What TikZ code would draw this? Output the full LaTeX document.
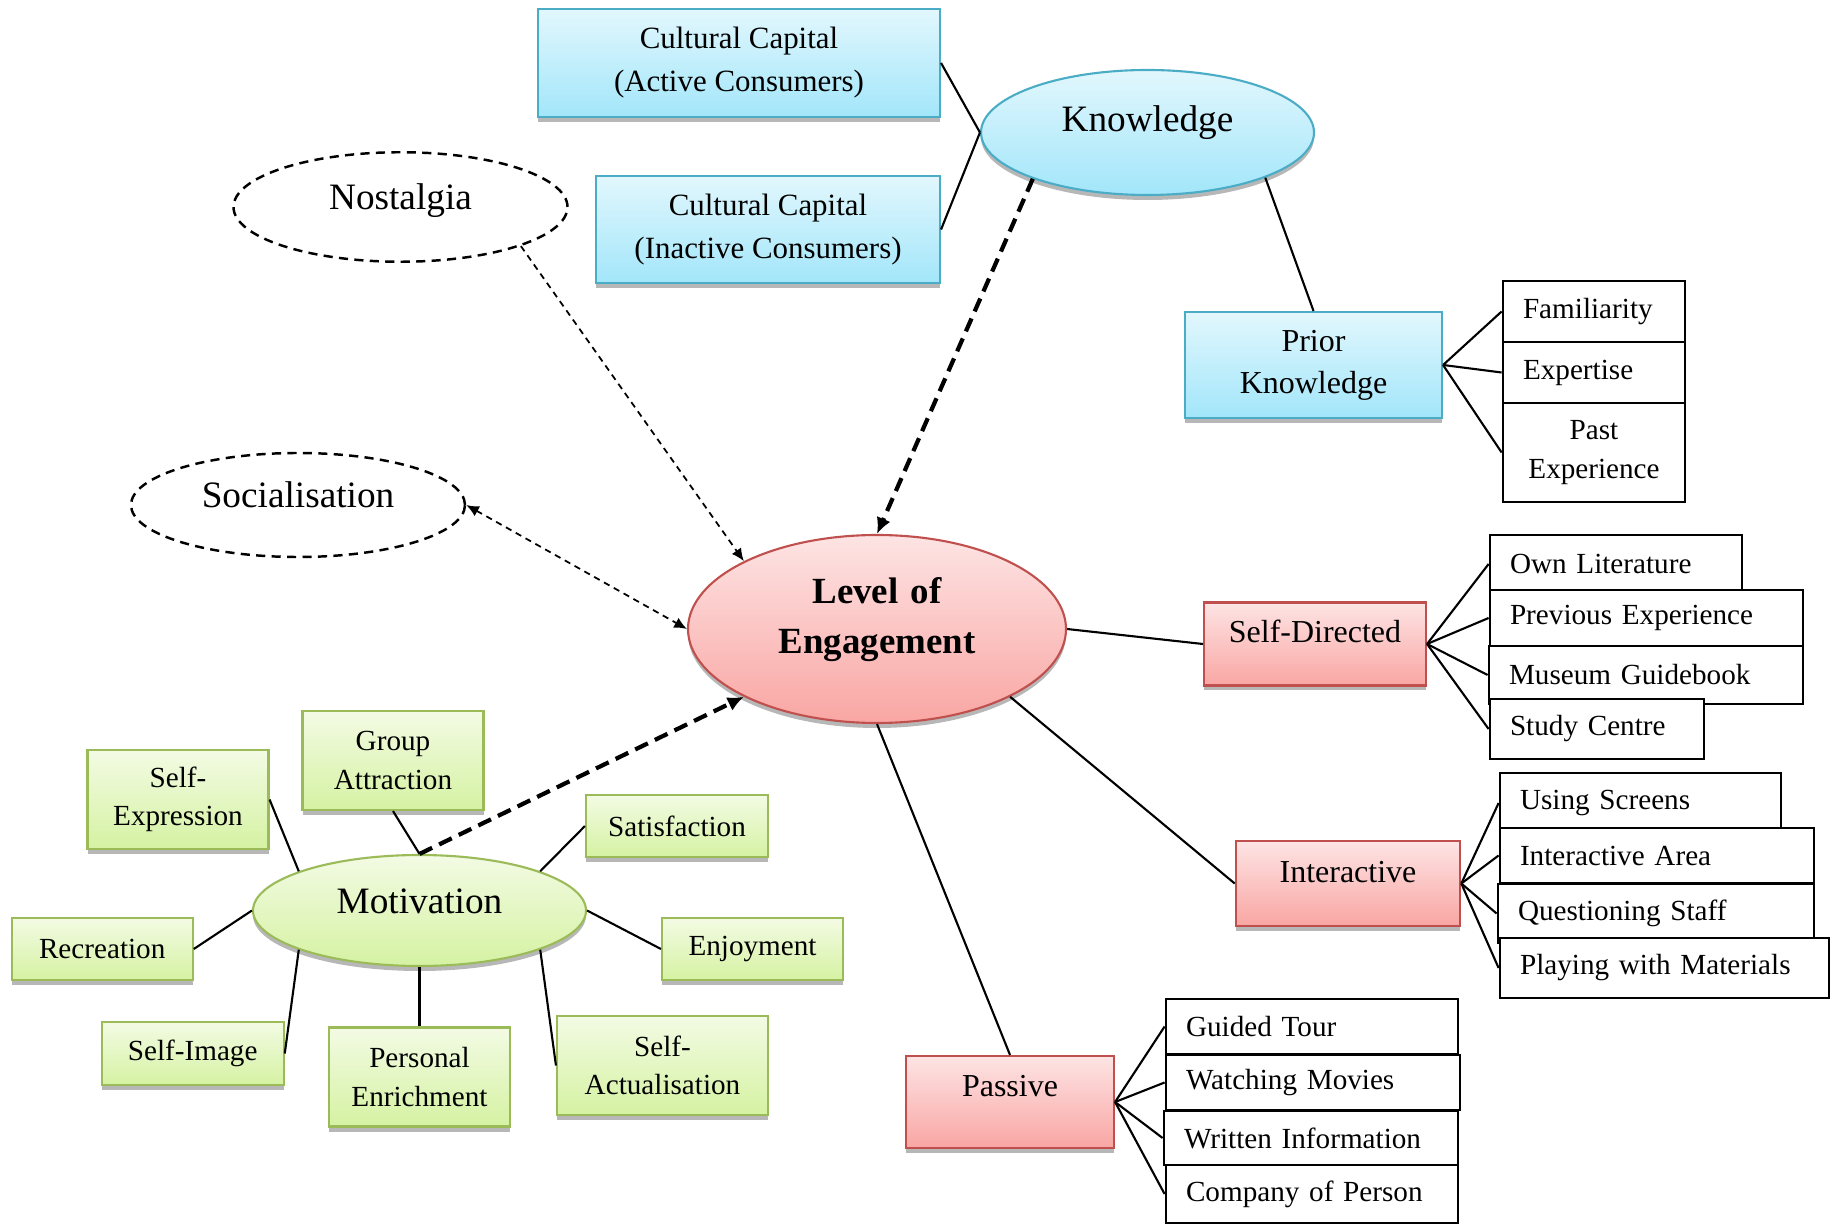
\documentclass[tikz,border=0pt]{standalone}
\usepackage{fontspec}
\setmainfont{Liberation Serif}
\usetikzlibrary{shapes.geometric,shadows,arrows.meta}

\definecolor{bluetop}{RGB}{226,247,253}
\definecolor{bluebot}{RGB}{162,230,250}
\definecolor{blueline}{RGB}{75,172,198}
\definecolor{redtop}{RGB}{253,228,228}
\definecolor{redbot}{RGB}{249,166,163}
\definecolor{redline}{RGB}{192,80,77}
\definecolor{greentop}{RGB}{243,251,228}
\definecolor{greenbot}{RGB}{213,242,162}
\definecolor{greenline}{RGB}{155,187,89}

\tikzset{
	boxshadow/.style={drop shadow={shadow xshift=0pt, shadow yshift=-0.05cm, fill=gray!80, opacity=0.7}},
	blueshape/.style={draw=blueline, line width=0.6pt, top color=bluetop, bottom color=bluebot, boxshadow, align=center, inner sep=1pt, font=\fontsize{8.8}{12.2}\selectfont},
	redshape/.style={draw=redline, line width=0.6pt, top color=redtop, bottom color=redbot, boxshadow, align=center, inner sep=1pt, text height=0.3cm, text depth=0.33cm, font=\fontsize{9.1}{12}\selectfont},
	greenshape/.style={draw=greenline, line width=0.6pt, top color=greentop, bottom color=greenbot, boxshadow, align=center, inner sep=1pt, font=\fontsize{8.3}{11}\selectfont},
	plainbox/.style={draw, line width=0.8pt, fill=white, inner xsep=0.2cm, inner ysep=0pt, align=left, font=\fontsize{8.3}{11}\selectfont},
	dashring/.style={ellipse, draw, line width=0.7pt, dash pattern=on 2.6pt off 1.8pt, fill=white, inner sep=1pt, text height=0.3cm, text depth=0.25cm, font=\fontsize{10.6}{12}\selectfont},
	bigfont/.style={font=\fontsize{10.6}{12}\selectfont},
	link/.style={line width=0.6pt},
	smalltip/.tip={Latex[length=3.6pt,width=3.2pt]},
	bigtip/.tip={Latex[length=4.6pt,width=4.2pt]},
	smalldash/.style={line width=0.5pt, dash pattern=on 1.8pt off 1.4pt},
	bigdash/.style={line width=1.2pt, dash pattern=on 4pt off 2.2pt, -bigtip}
}

\begin{document}
\begin{tikzpicture}
		\useasboundingbox (0,0) rectangle (18.31,-12.25);

		\draw (7.39,-0.63) node[blueshape, minimum width=4.02cm, minimum height=1.08cm] (cca) {Cultural Capital\\(Active Consumers)};
		\draw (7.68,-2.295) node[blueshape, minimum width=3.44cm, minimum height=1.07cm] (cci) {Cultural Capital\\(Inactive Consumers)};
		\draw (11.475,-1.325) node[blueshape, ellipse, bigfont, minimum width=3.33cm, minimum height=1.25cm, text height=0.3cm, text depth=0.31cm] (know) {Knowledge};
		\draw (13.135,-3.65) node[blueshape, minimum width=2.57cm, minimum height=1.06cm, font=\fontsize{9.1}{12}\selectfont] (pk) {Prior\\Knowledge};

		\draw (15.94,-3.115) node[plainbox, text width=1.42cm, minimum height=0.61cm] (fam) {Familiarity};
		\draw (15.94,-3.725) node[plainbox, text width=1.42cm, minimum height=0.61cm] (expt) {Expertise};
		\draw (15.94,-4.525) node[plainbox, text width=1.42cm, minimum height=0.99cm, align=center] (past) {Past\\Experience};

		\draw (4.005,-2.07) node[dashring, minimum width=3.34cm, minimum height=1.095cm] (nost) {Nostalgia};
		\draw (2.98,-5.05) node[dashring, minimum width=3.34cm, minimum height=1.04cm] (soc) {Socialisation};

		\draw (8.77,-6.29) node[redshape, ellipse, minimum width=3.78cm, minimum height=1.88cm, text width=2.2cm, text height=0.3cm, text depth=0.8cm, font=\fontsize{10.5}{14.2}\selectfont\bfseries] (loe) {Level of\\Engagement};

		\draw (13.15,-6.44) node[redshape, minimum width=2.22cm, minimum height=0.83cm] (sd) {Self-Directed};
		\draw (13.48,-8.835) node[redshape, minimum width=2.245cm, minimum height=0.85cm] (inter) {Interactive};
		\draw (10.10,-11.02) node[redshape, minimum width=2.08cm, minimum height=0.92cm, text depth=0.41cm] (pass) {Passive};

		\draw (16.16,-5.64) node[plainbox, text width=2.12cm, minimum height=0.58cm] (own) {Own Literature};
		\draw (16.465,-6.18) node[plainbox, text width=2.73cm, minimum height=0.56cm] (prev) {Previous Experience};
		\draw (16.46,-6.75) node[plainbox, text width=2.74cm, minimum height=0.58cm] (mus) {Museum Guidebook};
		\draw (15.97,-7.29) node[plainbox, text width=1.74cm, minimum height=0.60cm] (stud) {Study Centre};

		\draw (16.405,-8.03) node[plainbox, text width=2.41cm, minimum height=0.60cm] (scr) {Using Screens};
		\draw (16.57,-8.555) node[plainbox, text width=2.74cm, minimum height=0.55cm] (iarea) {Interactive Area};
		\draw (16.56,-9.135) node[plainbox, text width=2.76cm, minimum height=0.59cm] (qstaff) {Questioning Staff};
		\draw (16.645,-9.68) node[plainbox, text width=2.89cm, minimum height=0.60cm] (play) {Playing with Materials};

		\draw (13.12,-10.265) node[plainbox, text width=2.52cm, minimum height=0.55cm] (tour) {Guided Tour};
		\draw (13.13,-10.825) node[plainbox, text width=2.54cm, minimum height=0.55cm] (movie) {Watching Movies};
		\draw (13.11,-11.38) node[plainbox, text width=2.54cm, minimum height=0.54cm] (writ) {Written Information};
		\draw (13.12,-11.94) node[plainbox, text width=2.52cm, minimum height=0.58cm] (comp) {Company of Person};

		\draw (4.195,-9.105) node[greenshape, ellipse, bigfont, minimum width=3.33cm, minimum height=1.11cm, text height=0.3cm, text depth=0.25cm] (mot) {Motivation};
		\draw (1.78,-7.995) node[greenshape, minimum width=1.81cm, minimum height=0.99cm] (sexp) {Self-\\Expression};
		\draw (3.93,-7.605) node[greenshape, minimum width=1.81cm, minimum height=0.99cm] (grp) {Group\\Attraction};
		\draw (6.77,-8.26) node[greenshape, minimum width=1.82cm, minimum height=0.62cm] (sat) {Satisfaction};
		\draw (1.022,-9.49) node[greenshape, minimum width=1.81cm, minimum height=0.62cm] (rec) {Recreation};
		\draw (7.525,-9.49) node[greenshape, minimum width=1.81cm, minimum height=0.62cm] (enj) {Enjoyment};
		\draw (1.927,-10.535) node[greenshape, minimum width=1.82cm, minimum height=0.63cm] (simg) {Self-Image};
		\draw (4.195,-10.77) node[greenshape, minimum width=1.81cm, minimum height=0.99cm] (pers) {Personal\\Enrichment};
		\draw (6.625,-10.655) node[greenshape, minimum width=2.11cm, minimum height=0.99cm] (sact) {Self-\\Actualisation};

		\draw [link] (cca.east) -- (know.west);
		\draw [link] (cci.east) -- (know.west);
		\draw [link] (know.-21) -- (pk.north);
		\draw [link] (pk.east) -- (fam.west);
		\draw [link] (pk.east) -- (expt.west);
		\draw [link] (pk.east) -- (past.west);

		\draw [bigdash] (know.202) -- (loe.north);
		\draw [smalldash, -smalltip] (nost.-18) -- (loe.153);
		\draw [smalldash, smalltip-smalltip] (soc.east) -- (loe.west);
		\draw [bigdash] (mot.north) -- (loe.207);

		\draw [link] (loe.east) -- (sd.west);
		\draw [link] (loe.-27) -- (inter.west);
		\draw [link] (loe.south) -- (pass.north);

		\draw [link] (sd.east) -- (own.west);
		\draw [link] (sd.east) -- (prev.west);
		\draw [link] (sd.east) -- (mus.west);
		\draw [link] (sd.east) -- (stud.west);

		\draw [link] (inter.east) -- (scr.west);
		\draw [link] (inter.east) -- (iarea.west);
		\draw [link] (inter.east) -- (qstaff.west);
		\draw [link] (inter.east) -- (play.west);

		\draw [link] (pass.east) -- (tour.west);
		\draw [link] (pass.east) -- (movie.west);
		\draw [link] (pass.east) -- (writ.west);
		\draw [link] (pass.east) -- (comp.west);

		\draw [link] (sexp.east) -- (mot.162);
		\draw [link] (grp.south) -- (mot.north);
		\draw [link] (sat.west) -- (mot.18);
		\draw [link] (rec.east) -- (mot.west);
		\draw [link] (mot.east) -- (enj.west);
		\draw [link] (simg.east) -- (mot.198);
		\draw [link] (pers.north) -- (mot.south);
		\draw [link] (sact.west) -- (mot.-18);
	\end{tikzpicture}
\end{document}
